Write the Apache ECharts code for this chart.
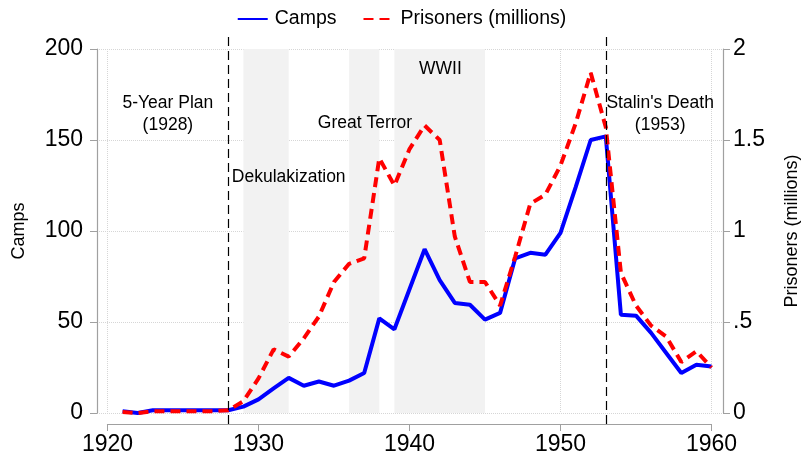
<!DOCTYPE html>
<html>
<head>
<meta charset="utf-8">
<script src="https://cdn.jsdelivr.net/npm/echarts@6/dist/echarts.min.js"></script>
<style>html,body{margin:0;padding:0;background:#fff}#c{width:803px;height:457px}</style>
</head>
<body>
<div id="c"></div>
<script>
var years = [1921,1922,1923,1924,1925,1926,1927,1928,1929,1930,1931,1932,1933,1934,1935,1936,1937,1938,1939,1940,1941,1942,1943,1944,1945,1946,1947,1948,1949,1950,1951,1952,1953,1954,1955,1956,1957,1958,1959,1960];
var camps = [1,0,1.5,1.5,1.5,1.5,1.5,1.5,3.5,7.5,13.5,19.3,15,17.3,15,17.8,22,52,46,68,90,73,60.5,59.5,51.3,55,85,88,87,99,124,150,152,54,53.5,44,33,22,26.5,25.5];
var prisoners = [0.005,0,0.01,0.01,0.01,0.01,0.01,0.015,0.065,0.19,0.35,0.31,0.41,0.53,0.72,0.82,0.85,1.40,1.25,1.45,1.58,1.50,0.97,0.72,0.72,0.59,0.86,1.15,1.20,1.36,1.59,1.87,1.57,0.77,0.59,0.48,0.42,0.28,0.34,0.25];
var periods = [[1929,1932],[1936,1938],[1939,1945]];
var events = [1928,1953];
var notes = [
  {text:'5-Year Plan\n(1928)', year:1924.0, camps:164.3},
  {text:'Dekulakization', year:1932.0, camps:129.8},
  {text:'Great Terror', year:1937.05, camps:159.4},
  {text:'WWII', year:1942.05, camps:189},
  {text:"Stalin's Death\n(1953)", year:1956.6, camps:164.3}
];
var xTicks = [1920,1930,1940,1950,1960];
var campTicks = [0,50,100,150,200];
var prisonerTicks = [0,0.5,1,1.5,2];

var FR = '"Liberation Sans",Arial,Helvetica,sans-serif';
var AX = '#a0a0a0';
var GRID = '#d6d6d6';
var hid = {axisLine:{show:false}, axisTick:{show:false}, axisLabel:{show:false}, splitLine:{show:false}};
function H(o){ var r = {}; for (var k in hid) r[k]=hid[k]; for (var k2 in o) r[k2]=o[k2]; return r; }

var chart = echarts.init(document.getElementById('c'));
chart.setOption({
  animation:false,
  legend:{
    data:[{name:'Camps'},{name:'Prisoners (millions)'}],
    top:4, left:'center', itemWidth:30, itemHeight:14, itemGap:26,
    itemStyle:{opacity:0},
    textStyle:{fontFamily:FR, fontSize:19.5, color:'#000', padding:[0,0,0,2]}
  },
  grid:[
    {left:107.5, right:91.5, top:49, bottom:44, outerBoundsMode:'none', containLabel:false},
    {left:107.5, right:91.5, top:37, bottom:33, outerBoundsMode:'none', containLabel:false},
    {left:107.5, right:91.5, top:49, bottom:33, outerBoundsMode:'none', containLabel:false},
    {left:97, right:80, top:49, bottom:44, outerBoundsMode:'none', containLabel:false}
  ],
  xAxis:[
    H({type:'value', gridIndex:0, min:1920, max:1960, interval:10,
      splitLine:{show:true, lineStyle:{color:GRID, type:'dotted', width:1}}}),
    H({type:'value', gridIndex:1, min:1920, max:1960}),
    {type:'value', gridIndex:2, min:1920, max:1960, interval:10, position:'bottom',
      axisLine:{show:true, onZero:false, lineStyle:{color:AX, width:1.2}},
      axisTick:{show:true, length:7, lineStyle:{color:AX}},
      axisLabel:{margin:9, fontFamily:FR, fontSize:23, color:'#000', formatter:function(v){return String(v);}},
      splitLine:{show:false}},
    H({type:'value', gridIndex:3, min:0, max:1})
  ],
  yAxis:[
    H({type:'value', gridIndex:0, min:0, max:200, interval:50}),
    H({type:'value', gridIndex:0, min:0, max:2, interval:0.5}),
    H({type:'value', gridIndex:1, min:0, max:1}),
    H({type:'value', gridIndex:2, min:0, max:1}),
    {type:'value', gridIndex:3, min:0, max:200, interval:50, position:'left',
      name:'Camps', nameLocation:'middle', nameGap:69, nameRotate:90, nameMoveOverlap:false,
      nameTextStyle:{fontFamily:FR, fontSize:18, color:'#000'},
      axisLine:{show:true, onZero:false, lineStyle:{color:AX, width:1.2}},
      axisTick:{show:true, length:7, lineStyle:{color:AX}},
      axisLabel:{margin:14, fontFamily:FR, fontSize:23, color:'#000'},
      splitLine:{show:true, lineStyle:{color:GRID, type:'dotted', width:1}}},
    {type:'value', gridIndex:3, min:0, max:2, interval:0.5, position:'right',
      name:'Prisoners (millions)', nameLocation:'middle', nameGap:60, nameRotate:90, nameMoveOverlap:false,
      nameTextStyle:{fontFamily:FR, fontSize:18, color:'#000'},
      axisLine:{show:true, onZero:false, lineStyle:{color:AX, width:1.2}},
      axisTick:{show:true, length:7, lineStyle:{color:AX}},
      axisLabel:{margin:10, fontFamily:FR, fontSize:23, color:'#000',
        formatter:function(v){ if(v===0) return '0'; var s=String(v); return s.charAt(0)==='0'? s.slice(1): s; }},
      splitLine:{show:false}}
  ],
  series:[{
    name:'helper', type:'line', xAxisIndex:0, yAxisIndex:0, data:[], z:1, silent:true,
    markArea:{silent:true, itemStyle:{color:'#f2f2f2'},
      data: periods.map(function(p){return [{xAxis:p[0]},{xAxis:p[1]}];})},
    markPoint:{silent:true, symbol:'circle', symbolSize:0,
      label:{show:true, position:'inside', formatter:'{b}', fontFamily:FR, fontSize:17.5, lineHeight:22, color:'#000'},
      data: notes.map(function(n){return {name:n.text, coord:[n.year,n.camps]};})}
  },{
    name:'events', type:'line', xAxisIndex:1, yAxisIndex:2, data:[], z:5, silent:true,
    markLine:{silent:true, symbol:['none','none'], label:{show:false},
      lineStyle:{color:'#000', type:[9,5], width:1.2},
      data: events.map(function(e){return {xAxis:e};})}
  },{
    name:'Camps', type:'line', xAxisIndex:0, yAxisIndex:0, z:3, showSymbol:false, symbol:'none',
    data: years.map(function(y,i){return [y,camps[i]];}),
    lineStyle:{color:'#0000ff', width:4}, itemStyle:{color:'#0000ff'}
  },{
    name:'Prisoners (millions)', type:'line', xAxisIndex:0, yAxisIndex:1, z:4, showSymbol:false, symbol:'none',
    data: years.map(function(y,i){return [y,prisoners[i]];}),
    lineStyle:{color:'#ff0000', width:4, type:[10,6]}, itemStyle:{color:'#ff0000'}
  }]
});
</script>
</body>
</html>
